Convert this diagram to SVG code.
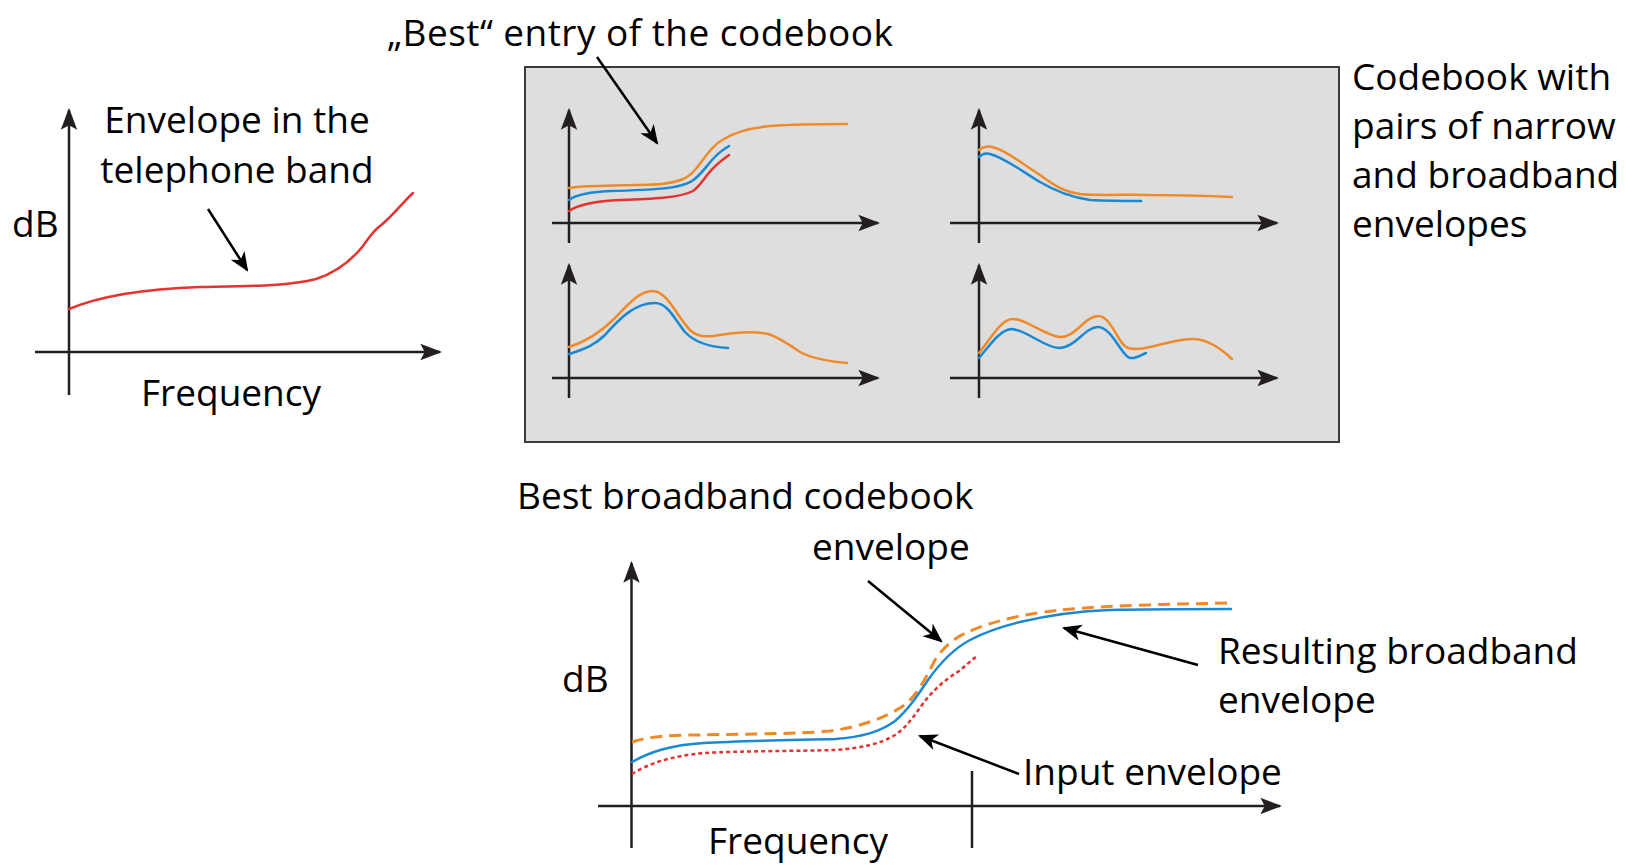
<svg xmlns="http://www.w3.org/2000/svg" width="1626" height="866" viewBox="0 0 1626 866">
  <defs>
    <marker id="axhead" markerUnits="userSpaceOnUse" markerWidth="24" markerHeight="20" viewBox="-20 -8 22 16" refX="0" refY="0" orient="auto">
      <path d="M2,0 L-18,-7.5 L-14,0 L-18,7.5 Z" fill="#231f20"/>
    </marker>
    <marker id="callhead" markerUnits="userSpaceOnUse" markerWidth="24" markerHeight="20" viewBox="-20 -9 22 18" refX="0" refY="0" orient="auto">
      <path d="M2,0 L-16,-7.5 L-11,0 L-16,7.5 Z" fill="#000"/>
    </marker>
    <style>
      .t { font-family: "Open Sans", "Liberation Sans", sans-serif; font-size: 37px; fill: #000; }
      .ax { stroke: #231f20; stroke-width: 2.5; fill: none; }
      .axa { stroke: #231f20; stroke-width: 2.5; fill: none; marker-end: url(#axhead); }
      .call { stroke: #000; stroke-width: 2.5; fill: none; marker-end: url(#callhead); }
      .or { stroke: #ef8a2a; stroke-width: 2.5; fill: none; stroke-linecap: round; }
      .bl { stroke: #1b88d2; stroke-width: 2.5; fill: none; stroke-linecap: round; }
      .rd { stroke: #e53330; stroke-width: 2.5; fill: none; stroke-linecap: round; }
    </style>
  </defs>
  <rect width="1626" height="866" fill="#fff"/>

  <g id="telephone-envelope-graph">
    <line class="axa" x1="69" y1="395" x2="69" y2="110"/>
    <line class="axa" x1="35" y1="352" x2="440" y2="352"/>
    <path class="rd" d="M69,309 C100,296 140,289 200,287 C250,286 290,286 316,279 C335,273 350,262 363,246 C370,236 374,230 380,226 C392,217 403,202 413,193"/>
    <text class="t" x="12" y="237">dB</text>
    <text class="t" x="141" y="406">Frequency</text>
    <text class="t" x="237" y="133" text-anchor="middle">Envelope in the</text>
    <text class="t" x="237" y="183" text-anchor="middle">telephone band</text>
  </g>

  <g id="codebook">
    <rect x="525" y="67" width="814" height="375" fill="#dedede" stroke="#3a3a3a" stroke-width="2"/>
    <g id="entry-1">
      <line class="axa" x1="569" y1="243" x2="569" y2="110"/>
      <line class="axa" x1="552" y1="223" x2="878" y2="223"/>
      <path class="or" d="M569,188 C590,184 640,186 661,184 C680,182 688,178 695,170 C705,158 712,145 724,139 C735,132 750,128 770,126 C800,124 830,124 847,124"/>
      <path class="bl" d="M569,200 C575,195 590,192 610,191 C650,190 680,189 692,181 C700,176 705,168 712,160 C718,153 724,149 729,146"/>
      <path class="rd" d="M569,211 C578,205 595,201 620,200 C650,199 680,198 693,191 C700,186 703,180 708,174 C714,166 722,160 729,155"/>
    </g>
    <g id="entry-2">
      <line class="axa" x1="979" y1="243" x2="979" y2="110"/>
      <line class="axa" x1="950" y1="223" x2="1277" y2="223"/>
      <path class="or" d="M979,150 C982,147 988,146 992,147 C1005,150 1020,162 1040,175 C1055,186 1065,192 1080,194 C1100,196 1130,194 1150,195 C1180,195 1210,196 1232,197"/>
      <path class="bl" d="M979,157 C982,154 986,153 990,154 C1005,158 1020,170 1040,182 C1055,191 1070,197 1090,200 C1110,201 1130,201 1141,201"/>
    </g>
    <g id="entry-3">
      <line class="axa" x1="569" y1="398" x2="569" y2="265"/>
      <line class="axa" x1="552" y1="378" x2="878" y2="378"/>
      <path class="or" d="M569,347 C585,342 600,333 615,318 C630,302 640,291 653,291 C667,291 678,318 690,330 C696,336 705,337 713,336 C735,332 755,331 768,334 C778,337 790,345 800,352 C815,360 835,362 847,363"/>
      <path class="bl" d="M569,354 C585,349 595,345 605,335 C620,318 635,303 655,303 C668,303 675,320 685,332 C695,343 710,347 728,348"/>
    </g>
    <g id="entry-4">
      <line class="axa" x1="979" y1="398" x2="979" y2="265"/>
      <line class="axa" x1="950" y1="378" x2="1277" y2="378"/>
      <path class="or" d="M979,353 C990,340 1000,320 1012,319 C1025,318 1045,336 1060,337 C1075,338 1085,316 1098,316 C1112,316 1118,345 1128,348 C1135,350 1142,349 1150,347 C1165,344 1180,338 1195,339 C1210,340 1225,352 1232,359"/>
      <path class="bl" d="M979,358 C990,345 1000,330 1011,329 C1025,329 1045,348 1059,348 C1075,348 1085,327 1098,327 C1112,327 1122,357 1130,358 C1136,359 1141,355 1146,353"/>
    </g>
    <text class="t" x="1352" y="90">Codebook with</text>
    <text class="t" x="1352" y="139">pairs of narrow</text>
    <text class="t" x="1352" y="188">and broadband</text>
    <text class="t" x="1352" y="237">envelopes</text>
  </g>

  <g id="best-entry-label">
    <text class="t" x="387" y="46" textLength="506" lengthAdjust="spacing">„Best“ entry of the codebook</text>
  </g>

  <g id="result-graph">
    <line class="axa" x1="631.5" y1="848" x2="631.5" y2="563"/>
    <line class="axa" x1="598" y1="806" x2="1280" y2="806"/>
    <line class="ax" x1="972" y1="771" x2="972" y2="848"/>
    <path d="M632,742 C650,736 670,735 700,735 C740,734 800,734 830,731 C860,727 885,718 903,706 C915,698 925,680 935,660 C945,645 955,638 966,633 C990,621 1030,613 1060,610 C1110,605 1180,604 1231,603" fill="none" stroke="#ef8a2a" stroke-width="3" stroke-dasharray="12,7"/>
    <path class="bl" d="M632,762 C650,752 670,745 704,743 C740,741 800,740 835,739 C862,737 880,732 895,721 C908,710 918,695 928,680 C940,663 955,648 970,640 C985,632 1000,627 1020,622 C1050,615 1080,611 1110,610 C1150,609 1200,609 1231,609"/>
    <path d="M632,774 C648,764 670,756 704,753 C740,751 800,751 835,750 C862,748 880,744 895,735 C906,728 914,716 922,705 C932,691 945,680 956,673 C965,667 970,661 976,657" fill="none" stroke="#e53330" stroke-width="2.5" stroke-dasharray="4,3"/>
    <text class="t" x="562" y="692">dB</text>
    <text class="t" x="708" y="854">Frequency</text>
  </g>

  <g id="best-broadband-label">
    <text class="t" x="517" y="509">Best broadband codebook</text>
    <text class="t" x="812" y="560">envelope</text>
  </g>
  <g id="resulting-label">
    <text class="t" x="1218" y="664">Resulting broadband</text>
    <text class="t" x="1218" y="713">envelope</text>
  </g>
  <g id="input-label">
    <text class="t" x="1023" y="785">Input envelope</text>
  </g>

  <g id="connectors">
    <line class="call" x1="208" y1="209" x2="247" y2="270"/>
    <line class="call" x1="597" y1="57" x2="657" y2="143"/>
    <line class="call" x1="868" y1="581" x2="941" y2="641"/>
    <line class="call" x1="1198" y1="665" x2="1064" y2="628"/>
    <line class="call" x1="1019" y1="774" x2="920" y2="736"/>
  </g>
</svg>
